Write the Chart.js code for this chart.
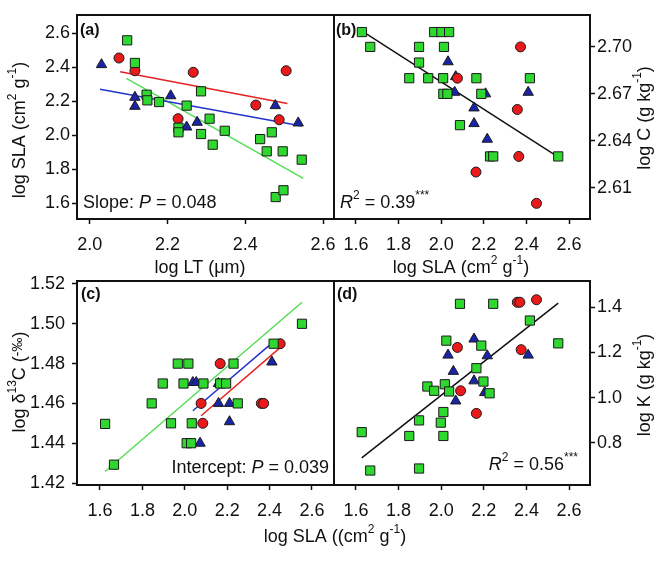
<!DOCTYPE html>
<html>
<head>
<meta charset="utf-8">
<script src="https://cdn.jsdelivr.net/npm/chart.js@4.4.1/dist/chart.umd.min.js"></script>
<style>
html, body { margin: 0; padding: 0; background: #fff; }
#wrap { position: relative; width: 666px; height: 561px; }
#wrap canvas { position: absolute; left: 0; top: 0; }
</style>
</head>
<body>
<div id="wrap">
  <canvas id="cA" width="666" height="561"></canvas>
  <canvas id="cB" width="666" height="561"></canvas>
  <canvas id="cC" width="666" height="561"></canvas>
  <canvas id="cD" width="666" height="561"></canvas>
</div>
<script>
// (a) log LT vs log SLA  -- [x, y]
const aRed = [[2.075, 2.453], [2.116, 2.378], [2.227, 2.096], [2.266, 2.369], [2.427, 2.176], [2.487, 2.090], [2.505, 2.378]];
const aBlue = [[2.030, 2.414], [2.116, 2.222], [2.116, 2.169], [2.208, 2.231], [2.249, 2.047], [2.276, 2.075], [2.477, 2.173], [2.536, 2.071]];
const aGreen = [[2.096, 2.557], [2.116, 2.424], [2.146, 2.237], [2.148, 2.204], [2.178, 2.194], [2.249, 2.173], [2.286, 2.257],
  [2.228, 2.043], [2.228, 2.016], [2.308, 2.096], [2.286, 2.006], [2.316, 1.943], [2.347, 2.025], [2.438, 1.976],
  [2.468, 2.016], [2.455, 1.904], [2.496, 1.904], [2.545, 1.855], [2.478, 1.635], [2.498, 1.675]];
const aRedFit = [[2.078, 2.372], [2.508, 2.186]];
const aBlueFit = [[2.026, 2.269], [2.545, 2.053]];
const aGreenFit = [[2.094, 2.333], [2.549, 1.745]];

// (b) log SLA vs log C
const bGreen = [[1.628, 2.7095], [1.667, 2.700], [1.896, 2.700], [2.013, 2.700], [1.967, 2.7095], [2.001, 2.7095], [2.037, 2.7095],
  [1.896, 2.690], [1.850, 2.680], [1.939, 2.680], [2.009, 2.680], [2.165, 2.680], [2.416, 2.680], [2.010, 2.670],
  [2.029, 2.670], [2.188, 2.670], [2.088, 2.650], [2.229, 2.630], [2.244, 2.630], [2.549, 2.630]];
const bBlue = [[2.032, 2.6905], [2.068, 2.681], [2.063, 2.671], [2.208, 2.670], [2.154, 2.661], [2.154, 2.651], [2.216, 2.641], [2.408, 2.671]];
const bRed = [[2.372, 2.700], [2.076, 2.680], [2.357, 2.660], [2.364, 2.630], [2.163, 2.620], [2.447, 2.600]];
const bFit = [[1.631, 2.710], [2.544, 2.630]];

// (c) log SLA vs log d13C
const cGreen = [[1.624, 1.4497], [1.666, 1.4292], [1.844, 1.460], [1.896, 1.470], [1.967, 1.480], [2.017, 1.480], [1.994, 1.470],
  [1.935, 1.450], [2.033, 1.450], [2.009, 1.440], [2.030, 1.440], [2.088, 1.470], [2.230, 1.480], [2.167, 1.470],
  [2.195, 1.470], [2.250, 1.460], [2.419, 1.490], [2.553, 1.500]];
const cRed = [[2.167, 1.480], [2.077, 1.460], [2.085, 1.450], [2.361, 1.460], [2.372, 1.460], [2.450, 1.490]];
const cBlue = [[2.038, 1.4705], [2.054, 1.4705], [2.159, 1.470], [2.159, 1.460], [2.211, 1.460], [2.211, 1.4508], [2.072, 1.440], [2.411, 1.4808]];
const cGreenFit = [[1.624, 1.4258], [2.553, 1.5108]];
const cBlueFit = [[2.038, 1.4563], [2.411, 1.4903]];
const cRedFit = [[2.077, 1.4538], [2.450, 1.488]];

// (d) log SLA vs log K
const dGreen = [[1.627, 0.847], [1.667, 0.677], [1.850, 0.830], [1.896, 0.899], [1.896, 0.686], [1.935, 1.049], [1.967, 1.030],
  [2.017, 1.059], [2.037, 1.027], [2.010, 0.936], [1.998, 0.889], [2.010, 0.830], [2.024, 1.252], [2.088, 1.415],
  [2.244, 1.415], [2.188, 1.230], [2.165, 1.130], [2.198, 1.071], [2.227, 1.019], [2.416, 1.341], [2.549, 1.240]];
const dBlue = [[2.154, 1.259], [2.032, 1.188], [2.216, 1.185], [2.057, 1.116], [2.154, 1.074], [2.068, 0.985], [2.204, 1.022], [2.408, 1.188]];
const dRed = [[2.076, 1.222], [2.091, 1.030], [2.165, 0.930], [2.357, 1.422], [2.369, 1.422], [2.447, 1.433], [2.375, 1.212]];
const dFit = [[1.627, 0.733], [2.549, 1.418]];

// tick labels
const ltTicks = [2.0, 2.2, 2.4, 2.6];
const slaTicks = [1.6, 1.8, 2.0, 2.2, 2.4, 2.6];
const aYTicks = [1.6, 1.8, 2.0, 2.2, 2.4, 2.6];
const bYTicks = [2.61, 2.64, 2.67, 2.70];
const cYTicks = [1.42, 1.44, 1.46, 1.48, 1.50, 1.52];
const dYTicks = [0.8, 1.0, 1.2, 1.4];

const FONT = '"Liberation Sans", Arial, sans-serif';
const RED = '#ea1a1a', BLUE = '#1a24a8', GREEN = '#2fd82f';
const W = 666, H = 561;
const XH = 36;   // height kept for x axes
const YW = 70;   // width kept for y axes

// tiny markup: ^sup^  _italic_  ~bold~  |small|
function rich(ctx, str, x, y, align, rot, size) {
  size = size || 18;
  const parts = str.split(/(\^[^^]+\^|_[^_]+_|~[^~]+~|\|[^|]+\|)/).filter(s => s).map(s => {
    const k = s[0];
    if (k === '^') return { t: s.slice(1, -1), s: 'sup' };
    if (k === '_') return { t: s.slice(1, -1), s: 'i' };
    if (k === '~') return { t: s.slice(1, -1), s: 'b' };
    if (k === '|') return { t: s.slice(1, -1), s: 'sm' };
    return { t: s, s: '' };
  });
  const f = p => (p.s === 'b' ? 'bold ' : p.s === 'i' ? 'italic ' : '') +
    (p.s === 'sup' ? Math.round(size * 0.66) : p.s === 'sm' ? Math.round(size * 0.75) : size) + 'px ' + FONT;
  ctx.save();
  ctx.translate(x, y);
  if (rot) ctx.rotate(rot);
  let w = 0;
  parts.forEach(p => { ctx.font = f(p); p.w = ctx.measureText(p.t).width; w += p.w; });
  let cx = align === 'center' ? -w / 2 : align === 'right' ? -w : 0;
  ctx.textAlign = 'left';
  ctx.textBaseline = 'middle';
  ctx.fillStyle = '#111';
  parts.forEach(p => {
    ctx.font = f(p);
    const dy = p.s === 'sup' ? -size * 0.38 : p.s === 'sm' ? -size * 0.12 : 0;
    ctx.fillText(p.t, cx, dy);
    cx += p.w;
  });
  ctx.restore();
}

const pts = arr => arr.map(p => ({ x: p[0], y: p[1] }));

function marks(arr, style, color, r, order) {
  return {
    data: pts(arr), pointStyle: style, pointRadius: r, pointBackgroundColor: color,
    pointBorderColor: '#1a1a1a', pointBorderWidth: 1, showLine: false, order: order
  };
}

function axis(pos, min, max, ticks, dec, pad) {
  return {
    type: 'linear', position: pos, min: min, max: max,
    afterFit: s => { if (pos === 'bottom') s.height = XH; else s.width = YW; },
    afterBuildTicks: s => { s.ticks = ticks.map(v => ({ value: v })); },
    border: { display: false },
    grid: { drawOnChartArea: false, drawTicks: true, tickLength: 5, tickWidth: 1.5, tickColor: '#111' },
    ticks: { padding: pad, color: '#111', font: { family: FONT, size: 18 }, autoSkip: false, maxRotation: 0,
      callback: v => Number(v).toFixed(dec) }
  };
}

function panel(id, o) {
  const sets = o.fits.map(f => ({
    data: pts(f[0]), showLine: true, borderColor: f[1], borderWidth: 1.5, pointRadius: 0, order: 10
  }));
  if (o.blue) sets.push(marks(o.blue, 'triangle', BLUE, 6, 3));
  sets.push(marks(o.red, 'circle', RED, 5, 2));
  sets.push(marks(o.green, 'rect', GREEN, 6.5, 1));
  const a = o.area;
  const leftAxis = o.y.position === 'left';
  new Chart(document.getElementById(id), {
    type: 'scatter',
    data: { datasets: sets },
    options: {
      responsive: false, animation: false, events: [],
      layout: { padding: {
        left: a[0] - (leftAxis ? YW : 0), top: a[1],
        right: W - a[2] - (leftAxis ? 0 : YW), bottom: H - a[3] - XH } },
      plugins: { legend: { display: false }, tooltip: { enabled: false } },
      elements: { line: { tension: 0 } },
      scales: { x: o.x, y: o.y }
    },
    plugins: [{
      id: 'deco',
      afterDraw(c) {
        const ctx = c.ctx, ca = c.chartArea;
        ctx.save();
        ctx.strokeStyle = '#111';
        ctx.lineWidth = 2;
        ctx.strokeRect(ca.left, ca.top, ca.right - ca.left, ca.bottom - ca.top);
        ctx.restore();
        o.text(ctx);
      }
    }]
  });
}

panel('cA', {
  area: [77, 15, 334, 219],
  x: axis('bottom', 1.967, 2.628, ltTicks, 1, 10),
  y: axis('left', 1.506, 2.706, aYTicks, 1, 2),
  fits: [[aRedFit, '#e52222'], [aBlueFit, '#2233cc'], [aGreenFit, '#55dd55']],
  red: aRed, blue: aBlue, green: aGreen,
  text: ctx => {
    rich(ctx, '~(a)~', 80, 31, 'left', 0, 16);
    rich(ctx, 'Slope: _P_ = 0.048', 83, 203, 'left');
    rich(ctx, 'log LT (μm)', 200, 268, 'center');
    rich(ctx, 'log SLA (cm^2^ g^-1^)', 20, 130, 'center', -Math.PI / 2);
  }
});

panel('cB', {
  area: [334, 15, 590, 219],
  x: axis('bottom', 1.497, 2.698, slaTicks, 1, 10),
  y: axis('right', 2.590, 2.7204, bYTicks, 2, 2),
  fits: [[bFit, '#111']],
  red: bRed, blue: bBlue, green: bGreen,
  text: ctx => {
    rich(ctx, '~(b)~', 336, 31, 'left', 0, 16);
    rich(ctx, '_R_^2^ = 0.39^***^', 340, 203, 'left');
    rich(ctx, 'log SLA (cm^2^ g^-1^)', 461, 268, 'center');
    rich(ctx, 'log C (g kg^-1^)', 645, 118, 'center', -Math.PI / 2);
  }
});

panel('cC', {
  area: [77, 281, 334, 485],
  x: axis('bottom', 1.4915, 2.704, slaTicks, 1, 10),
  y: axis('left', 1.419, 1.5215, cYTicks, 2, 7),
  fits: [[cGreenFit, '#55dd55'], [cBlueFit, '#2233cc'], [cRedFit, '#e52222']],
  red: cRed, blue: cBlue, green: cGreen,
  text: ctx => {
    rich(ctx, '~(c)~', 81, 295, 'left', 0, 16);
    rich(ctx, 'Intercept: _P_ = 0.039', 329, 468, 'right');
    rich(ctx, 'log δ^13^C (|-‰|)', 20, 382, 'center', -Math.PI / 2);
    rich(ctx, 'log SLA ((cm^2^ g^-1^)', 335, 537, 'center');
  }
});

panel('cD', {
  area: [334, 281, 590, 485],
  x: axis('bottom', 1.497, 2.698, slaTicks, 1, 10),
  y: axis('right', 0.613, 1.516, dYTicks, 1, 2),
  fits: [[dFit, '#111']],
  red: dRed, blue: dBlue, green: dGreen,
  text: ctx => {
    rich(ctx, '~(d)~', 337, 295, 'left', 0, 16);
    rich(ctx, '_R_^2^ = 0.56^***^', 578, 465, 'right');
    rich(ctx, 'log K (g kg^-1^)', 645, 385, 'center', -Math.PI / 2);
  }
});
</script>
</body>
</html>
